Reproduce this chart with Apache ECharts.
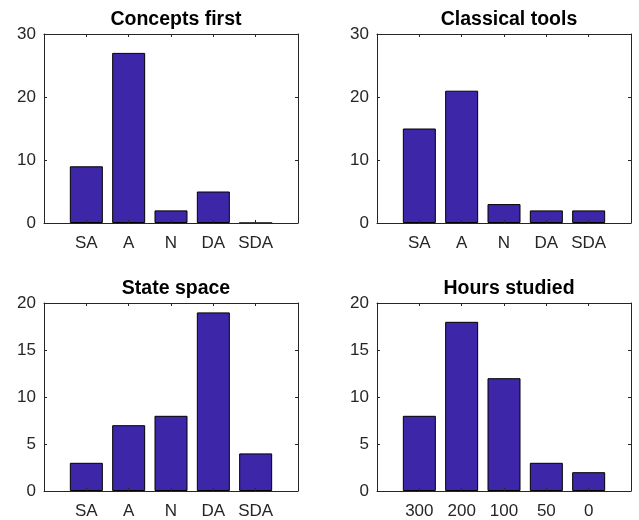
<!DOCTYPE html>
<html>
<head>
<meta charset="utf-8">
<script src="https://cdn.jsdelivr.net/npm/echarts@6/dist/echarts.min.js"></script>
<style>html,body{margin:0;padding:0;background:#fff;}#c{width:639px;height:520px;}</style>
</head>
<body>
<div id="c"></div>
<script>
var titles = ['Concepts first', 'Classical tools', 'State space', 'Hours studied'];
var agreeCats = ['SA', 'A', 'N', 'DA', 'SDA'];
var hoursCats = ['300', '200', '100', '50', '0'];
var conceptsFirst = [9, 27, 2, 5, 0];
var classicalTools = [15, 21, 3, 2, 2];
var stateSpace = [3, 7, 8, 19, 4];
var hoursStudied = [8, 18, 12, 3, 2];
var yMaxes = [30, 30, 20, 20];
var yIntervals = [10, 10, 5, 5];

var panels = [
  {title: titles[0], cats: agreeCats, vals: conceptsFirst, ymax: yMaxes[0], yint: yIntervals[0]},
  {title: titles[1], cats: agreeCats, vals: classicalTools, ymax: yMaxes[1], yint: yIntervals[1]},
  {title: titles[2], cats: agreeCats, vals: stateSpace, ymax: yMaxes[2], yint: yIntervals[2]},
  {title: titles[3], cats: hoursCats, vals: hoursStudied, ymax: yMaxes[3], yint: yIntervals[3]}
];

var boxes = [
  {left: 44, top: 34, width: 254, height: 189},
  {left: 377, top: 34, width: 254, height: 189},
  {left: 44, top: 303, width: 254, height: 188},
  {left: 377, top: 303, width: 254, height: 188}
];

var axisColor = '#262626';
var font = 'Liberation Sans, Arial, Helvetica, sans-serif';
var grid = [], xAxis = [], yAxis = [], series = [], title = [];

panels.forEach(function (p, i) {
  var b = boxes[i];
  grid.push({left: b.left, top: b.top, width: b.width, height: b.height, containLabel: false});
  title.push({
    text: p.title,
    left: b.left + b.width / 2,
    top: b.top - 29,
    textAlign: 'center',
    textStyle: {fontFamily: font, fontWeight: 'bold', fontSize: 19.5, color: '#000'}
  });
  var cats = p.cats;
  var common = {
    type: 'value', gridIndex: i, min: 0, max: 6, interval: 1, z: 5,
    axisLine: {show: true, onZero: false, lineStyle: {color: axisColor, width: 1}},
    axisTick: {show: true, inside: true, length: 3, lineStyle: {color: axisColor, width: 1}},
    splitLine: {show: false}
  };
  xAxis.push(Object.assign({}, common, {
    position: 'bottom',
    axisLabel: {
      show: true, margin: 12, color: axisColor, fontSize: 17, fontFamily: font,
      showMinLabel: true, showMaxLabel: true,
      formatter: function (v) { return (v >= 1 && v <= 5) ? cats[v - 1] : ''; }
    }
  }));
  xAxis.push(Object.assign({}, common, {position: 'top', axisLabel: {show: false}}));
  var ycommon = {
    type: 'value', gridIndex: i, min: 0, max: p.ymax, interval: p.yint, z: 5,
    axisLine: {show: true, onZero: false, lineStyle: {color: axisColor, width: 1}},
    axisTick: {show: true, inside: true, length: 3, lineStyle: {color: axisColor, width: 1}},
    splitLine: {show: false}
  };
  yAxis.push(Object.assign({}, ycommon, {
    position: 'left',
    axisLabel: {show: true, margin: 8, color: axisColor, fontSize: 17, fontFamily: font}
  }));
  yAxis.push(Object.assign({}, ycommon, {position: 'right', axisLabel: {show: false}}));
  series.push({
    type: 'bar',
    xAxisIndex: 2 * i,
    yAxisIndex: 2 * i,
    barWidth: 33,
    itemStyle: {color: '#3E26A8', borderColor: '#000', borderWidth: 1},
    data: p.vals.map(function (v, k) { return [k + 1, v]; }),
    animation: false
  });
});

var chart = echarts.init(document.getElementById('c'), null, {renderer: 'canvas'});
chart.setOption({
  backgroundColor: '#fff',
  animation: false,
  title: title,
  grid: grid,
  xAxis: xAxis,
  yAxis: yAxis,
  series: series
});
</script>
</body>
</html>
